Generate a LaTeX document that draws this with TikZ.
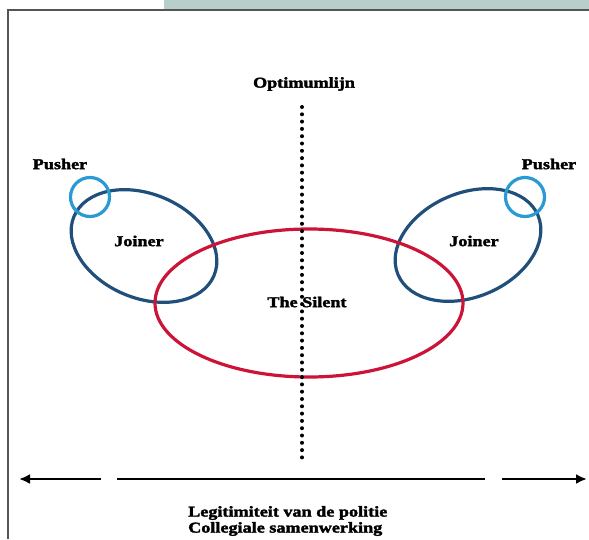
\documentclass[tikz,border=0pt]{standalone}
\usepackage{fontspec}
\newfontfamily\lblfont{Liberation Serif}[FakeStretch=1.21,FakeBold=2.2]
\usetikzlibrary{shapes.geometric,arrows.meta}
\definecolor{barcol}{HTML}{B8CECA}
\definecolor{framecol}{HTML}{555555}
\definecolor{joinercol}{HTML}{1F4F7A}
\definecolor{pushercol}{HTML}{2A9AD5}
\definecolor{silentcol}{HTML}{CC1438}
\begin{document}
\begin{tikzpicture}[x=1pt,y=-1pt,
  lbl/.style={font=\lblfont\bfseries\fontsize{15}{18}\selectfont, inner sep=0pt, text=black},
  joinerell/.style={ellipse, draw=joinercol, line width=3.2pt, inner sep=0pt, minimum width=152pt, minimum height=104pt},
  pushercirc/.style={circle, draw=pushercol, line width=3.2pt, inner sep=0pt, minimum size=39pt},
  silentell/.style={ellipse, draw=silentcol, line width=3.2pt, inner sep=0pt, minimum width=308pt, minimum height=148pt},
  axisline/.style={line width=2.6pt, black},
  tip/.style={-{Latex[length=11pt,width=10pt]}},
  dotline/.style={line width=4pt, line cap=round, dash pattern=on 0pt off 7.3pt}
]
\useasboundingbox (0,0) rectangle (589,539);
% top bar and frame
\fill[barcol] (164,0) rectangle (589,10);
\draw[framecol, line width=1.6pt] (8,539) -- (8,10) -- (589,10);

% joiners
\node[joinerell, rotate=-23] (lj) at (144,246) {};
\node[joinerell, rotate=23] (rj) at (468,245) {};
% silent
\node[silentell] (se) at (309,303) {};
% pushers
\node[pushercirc] (lp) at (90,197) {};
\node[pushercirc] (rp) at (525,197) {};

% labels
\node[lbl] (lpl) at (60,164) {Pusher};
\node[lbl] (rpl) at (549,164) {Pusher};
\node[lbl] (ljl) at (139,241) {Joiner};
\node[lbl] (rjl) at (474,241) {Joiner};
\node[lbl] (sl) at (307,302) {The Silent};
\node[lbl] (opt) at (304,84) {Optimumlijn};
\node[lbl, anchor=west, align=left] (axl) at (188,521) {Legitimiteit van de politie\\[-2pt]Collegiale samenwerking};

% optimum line
\coordinate (dtop) at (302,107);
\coordinate (dbot) at (302,461);
\draw[dotline] (dtop) -- (dbot);

% horizontal axis
\coordinate (al1) at (101,479);
\coordinate (al0) at (19,479);
\coordinate (am0) at (117,479);
\coordinate (am1) at (485,479);
\coordinate (ar0) at (502,479);
\coordinate (ar1) at (587,479);
\draw[axisline, tip] (al1) -- (al0);
\draw[axisline] (am0) -- (am1);
\draw[axisline, tip] (ar0) -- (ar1);
\end{tikzpicture}
\end{document}
